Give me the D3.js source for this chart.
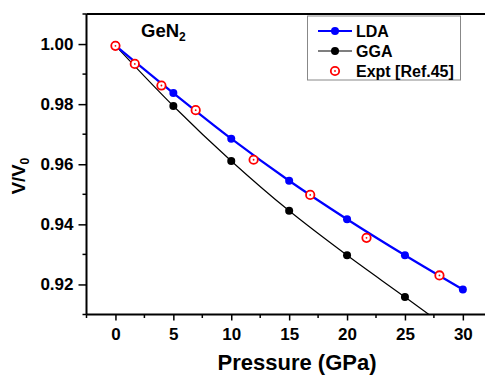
<!DOCTYPE html>
<html><head><meta charset="utf-8">
<script src="https://cdn.jsdelivr.net/npm/d3@7"></script>
<style>body{margin:0;background:#fff}svg{display:block;font-family:"Liberation Sans",Arial,sans-serif;font-weight:bold}</style>
</head><body><svg id="c" width="485" height="377"></svg>
<script>
const ldaP = [0, 5, 10, 15, 20, 25, 30];
const ldaV = [0.9995, 0.9837, 0.9685, 0.9545, 0.9417, 0.9297, 0.9183];
const ggaP = [0, 5, 10, 15, 20, 25, 30];
const ggaV = [0.9995, 0.9794, 0.9611, 0.9445, 0.9297, 0.9158, 0.9017];
const expP = [0, 1.67, 3.97, 6.93, 11.93, 16.82, 21.68, 27.98];
const expV = [0.9994, 0.9934, 0.9862, 0.978, 0.9615, 0.9498, 0.9355, 0.923];
const xTicks = [0, 5, 10, 15, 20, 25, 30];
const yTicks = [0.92, 0.94, 0.96, 0.98, 1.00];
const legendLabels = ["LDA", "GGA", "Expt [Ref.45]"];

const svg = d3.select("#c");
const L = 86.5, T = 14, B = 314.5;
const x = d3.scaleLinear().domain([-2.5, 32.5]).range([L, L + 35 * 11.58]);
const y = d3.scaleLinear().domain([0.91, 1.01]).range([B, T]);

svg.append("clipPath").attr("id", "clip").append("rect")
  .attr("x", L).attr("y", T).attr("width", 500).attr("height", B - T);

// axes
const xAxis = d3.axisBottom(x).tickValues(xTicks).tickFormat(d3.format("d")).tickSize(6).tickPadding(7);
const gx = svg.append("g").attr("transform", `translate(0,${B})`).call(xAxis);
const xMinor = d3.range(-2.5, 33, 5);
gx.selectAll(".minor").data(xMinor).enter().append("line")
  .attr("x1", d => x(d)).attr("x2", d => x(d)).attr("y1", 0).attr("y2", 3.5)
  .attr("stroke", "#000").attr("stroke-width", 1.5);

const yAxis = d3.axisLeft(y).tickValues(yTicks).tickFormat(d3.format(".2f")).tickSize(8).tickPadding(5);
const gy = svg.append("g").attr("transform", `translate(${L},0)`).call(yAxis);
const yMinor = [0.91, 0.93, 0.95, 0.97, 0.99, 1.01];
gy.selectAll(".minor").data(yMinor).enter().append("line")
  .attr("x1", 0).attr("x2", -4).attr("y1", d => y(d)).attr("y2", d => y(d))
  .attr("stroke", "#000").attr("stroke-width", 1.5);

[gx, gy].forEach(g => {
  g.select(".domain").attr("stroke-width", 2);
  g.selectAll(".tick line").attr("stroke-width", 1.5);
  g.selectAll("text").attr("font-size", 17).attr("font-weight", "bold")
    .attr("font-family", "Liberation Sans, Arial, sans-serif").attr("fill", "#000");
});
gx.select(".domain").attr("d", `M${L},0H485`);
gy.select(".domain").attr("d", `M0,${B}V${T}`);

// top border
svg.append("line").attr("x1", L).attr("x2", 485).attr("y1", T).attr("y2", T)
  .attr("stroke", "#000").attr("stroke-width", 2);

// axis titles
svg.append("text").attr("x", 297).attr("y", 370).attr("text-anchor", "middle")
  .attr("font-size", 22).text("Pressure (GPa)");
const yl = svg.append("text").attr("transform", "translate(25,176) rotate(-90)")
  .attr("text-anchor", "middle").attr("font-size", 18.5);
yl.append("tspan").text("V/V");
yl.append("tspan").attr("font-size", 12).attr("dy", 4).text("0");

// GeN2 label
const gl = svg.append("text").attr("x", 141).attr("y", 37).attr("font-size", 18.5);
gl.append("tspan").text("GeN");
gl.append("tspan").attr("font-size", 12).attr("dy", 4).text("2");

const plot = svg.append("g").attr("clip-path", "url(#clip)");
const line = d3.line().x(d => x(d[0])).y(d => y(d[1])).curve(d3.curveCatmullRom);

const gga = ggaP.map((p, i) => [p, ggaV[i]]);
const lda = ldaP.map((p, i) => [p, ldaV[i]]);
const expt = expP.map((p, i) => [p, expV[i]]);

plot.append("path").datum(gga).attr("d", line).attr("fill", "none").attr("stroke", "#000").attr("stroke-width", 1.2);
plot.selectAll(".gg").data(gga).enter().append("circle")
  .attr("cx", d => x(d[0])).attr("cy", d => y(d[1])).attr("r", 4).attr("fill", "#000");

plot.append("path").datum(lda).attr("d", line).attr("fill", "none").attr("stroke", "#0000ff").attr("stroke-width", 2.2);
plot.selectAll(".ld").data(lda).enter().append("circle")
  .attr("cx", d => x(d[0])).attr("cy", d => y(d[1])).attr("r", 4).attr("fill", "#0000ff");

const ex = plot.selectAll(".ex").data(expt).enter().append("g")
  .attr("transform", d => `translate(${x(d[0])},${y(d[1])})`);
ex.append("circle").attr("r", 4.2).attr("fill", "#fff").attr("stroke", "#ff0000").attr("stroke-width", 1.8);
ex.append("circle").attr("r", 0.9).attr("fill", "#ff0000");

// legend
const lg = svg.append("g");
lg.append("rect").attr("x", 307.5).attr("y", 16).attr("width", 153).attr("height", 64)
  .attr("fill", "#fff").attr("stroke", "#888").attr("stroke-width", 1);
const rows = [31, 51, 71];
lg.append("line").attr("x1", 318).attr("x2", 352).attr("y1", rows[0]).attr("y2", rows[0]).attr("stroke", "#0000ff").attr("stroke-width", 2.2);
lg.append("circle").attr("cx", 335).attr("cy", rows[0]).attr("r", 4).attr("fill", "#0000ff");
lg.append("line").attr("x1", 318).attr("x2", 352).attr("y1", rows[1]).attr("y2", rows[1]).attr("stroke", "#000").attr("stroke-width", 1.2);
lg.append("circle").attr("cx", 335).attr("cy", rows[1]).attr("r", 4).attr("fill", "#000");
lg.append("circle").attr("cx", 335).attr("cy", rows[2]).attr("r", 4.2).attr("fill", "#fff").attr("stroke", "#ff0000").attr("stroke-width", 1.8);
lg.append("circle").attr("cx", 335).attr("cy", rows[2]).attr("r", 0.9).attr("fill", "#ff0000");
legendLabels.forEach((t, i) => {
  lg.append("text").attr("x", 356).attr("y", rows[i] + 6).attr("font-size", 16).text(t);
});
</script></body></html>
